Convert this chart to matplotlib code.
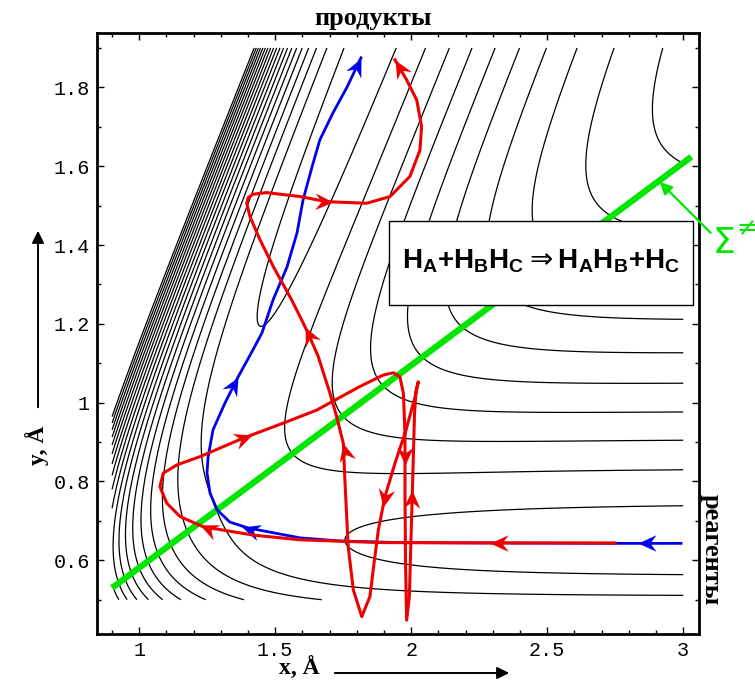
import numpy as np
import matplotlib
matplotlib.use('Agg')
import matplotlib.pyplot as plt
from matplotlib.markers import MarkerStyle
from matplotlib.path import Path
from matplotlib.transforms import Affine2D
from matplotlib.patches import Rectangle, FancyArrowPatch

plt.rcParams['mathtext.fontset'] = 'dejavusans'

# LEPS surface for H + H2 (eV, Angstrom), plotted in skewed Jacobi coordinates
D_E = 4.746
BETA = 1.942
R_E = 0.742
SATO = 0.13
LEVELS = 0.19 + 0.38 * np.arange(20)

# trajectories (x, y in Angstrom)
blue_x = [2.992, 2.749, 2.326, 1.958, 1.738, 1.591, 1.400, 1.333, 1.286, 1.260, 1.249,
          1.253, 1.271, 1.315, 1.363, 1.418, 1.451, 1.492, 1.543, 1.580, 1.602, 1.635,
          1.664, 1.712, 1.764, 1.815]
blue_y = [0.643, 0.643, 0.644, 0.645, 0.649, 0.657, 0.682, 0.697, 0.728, 0.771, 0.822,
          0.862, 0.931, 0.999, 1.065, 1.134, 1.177, 1.261, 1.344, 1.431, 1.514, 1.598,
          1.667, 1.735, 1.801, 1.875]

red_x = [2.749, 2.326, 1.885, 1.591, 1.419, 1.235, 1.150, 1.101, 1.076, 1.088, 1.138,
         1.223, 1.382, 1.529, 1.652, 1.811, 1.897, 1.934, 1.958, 1.971, 1.977, 1.977,
         1.979, 1.983,
         1.993, 2.000, 2.007, 2.012, 2.018, 2.026,
         2.014, 1.981, 1.940, 1.903, 1.879, 1.863, 1.848, 1.818,
         1.787, 1.768, 1.756, 1.750, 1.726, 1.701, 1.658, 1.621, 1.597, 1.560, 1.493,
         1.444, 1.407, 1.395, 1.401, 1.419, 1.468, 1.591, 1.689, 1.836, 1.922, 1.995,
         2.032, 2.038, 2.020, 1.983, 1.940]
red_y = [0.644, 0.644, 0.645, 0.652, 0.664, 0.685, 0.711, 0.745, 0.787, 0.821, 0.842,
         0.863, 0.910, 0.948, 0.981, 1.041, 1.070, 1.076, 1.066, 1.024, 0.922, 0.761,
         0.592, 0.448,
         0.508, 0.677, 0.846, 0.973, 1.032, 1.053,
         1.015, 0.931, 0.846, 0.761, 0.677, 0.592, 0.508, 0.457,
         0.525, 0.635, 0.804, 0.897, 0.964, 1.024, 1.117, 1.176, 1.210, 1.261, 1.345,
         1.413, 1.472, 1.506, 1.521, 1.529, 1.533, 1.523, 1.510, 1.506, 1.523, 1.574,
         1.641, 1.701, 1.768, 1.819, 1.870]

blue_arrows = [(2.833, 0.643), (1.378, 0.685), (1.363, 1.065), (1.815, 1.875)]
red_arrows = [(2.288, 0.644), (1.222, 0.689), (1.415, 0.918), (1.977, 0.842),
              (2.004, 0.778), (1.896, 0.735), (1.750, 0.897), (1.609, 1.193),
              (1.712, 1.510), (1.940, 1.870)]

# dividing surface
sigma_x = [0.90, 3.03]
sigma_y = [0.530, 1.624]

x_ticks = [1, 1.5, 2, 2.5, 3]
x_labels = ['1', '1.5', '2', '2.5', '3']
y_ticks = [0.6, 0.8, 1.0, 1.2, 1.4, 1.6, 1.8]
y_labels = ['0.6', '0.8', '1', '1.2', '1.4', '1.6', '1.8']


def leps(rab, rbc, rac):
    def q_j(r):
        u = np.exp(-BETA * (r - R_E))
        q = D_E / (4 * (1 + SATO)) * ((3 + SATO) * u ** 2 - 2 * (1 + 3 * SATO) * u)
        j = D_E / (4 * (1 + SATO)) * ((1 + 3 * SATO) * u ** 2 - (6 + 2 * SATO) * u)
        return q, j
    q1, j1 = q_j(rab)
    q2, j2 = q_j(rbc)
    q3, j3 = q_j(rac)
    root = np.sqrt(np.clip(j1 ** 2 + j2 ** 2 + j3 ** 2 - j1 * j2 - j2 * j3 - j1 * j3, 0, None))
    return q1 + q2 + q3 - root + D_E


# arrowhead with its tip at the origin
HEAD = Path([(0, 0), (-1, 0.46), (-0.66, 0), (-1, -0.46), (0, 0)],
            [Path.MOVETO, Path.LINETO, Path.LINETO, Path.LINETO, Path.CLOSEPOLY])


def draw_heads(ax, xs, ys, spots, color, z):
    pts = ax.transData.transform(np.column_stack([xs, ys]))
    a, b = pts[:-1], pts[1:]
    ab = b - a
    for sx, sy in spots:
        p = ax.transData.transform((sx, sy))
        t = np.clip(((p - a) * ab).sum(1) / ((ab ** 2).sum(1) + 1e-9), 0, 1)
        d = np.hypot(*(a + ab * t[:, None] - p).T)
        i = np.argmin(d)
        ang = np.degrees(np.arctan2(ab[i, 1], ab[i, 0]))
        m = MarkerStyle(HEAD, transform=Affine2D().rotate_deg(ang))
        ax.plot(sx, sy, marker=m, ms=26, color=color, mew=0, ls='none', zorder=z)


fig = plt.figure(figsize=(7.55, 6.81), dpi=100)
ax = fig.add_axes([97 / 755, 1 - 634 / 681, 602 / 755, 601 / 681])
ax.set_xlim(0.8445, 3.058)
ax.set_ylim(0.413, 1.938)

xg = np.linspace(0.9, 3.0, 600)
yg = np.linspace(0.5, 1.9, 500)
X, Y = np.meshgrid(xg, yg)
r_bc = Y / (np.sqrt(3) / 2)
r_ab = np.clip(X - r_bc / 2, 0.05, None)
E = leps(r_ab, r_bc, r_ab + r_bc)
ax.contour(X, Y, E, levels=LEVELS, colors='black', linewidths=0.9, zorder=1)

ax.plot(sigma_x, sigma_y, color='#00e600', lw=4.5, solid_capstyle='butt', zorder=2)

ax.plot(blue_x, blue_y, color='#0000ee', lw=2.0, zorder=3)
draw_heads(ax, blue_x, blue_y, blue_arrows, '#0000ee', 3)
ax.plot(red_x, red_y, color='#ee0000', lw=2.2, zorder=4)
draw_heads(ax, red_x, red_y, red_arrows, '#ee0000', 4)

ax.add_patch(Rectangle((1.918, 1.248), 1.118, 0.213, facecolor='white',
                       edgecolor='black', lw=1.0, zorder=5))
ax.text(2.476, 1.342,
        r'H$_\mathregular{A}$+H$_\mathregular{B}$H$_\mathregular{C}\Rightarrow$'
        r'H$_\mathregular{A}$H$_\mathregular{B}$+H$_\mathregular{C}$',
        ha='center', va='baseline', fontsize=20, family='Liberation Sans',
        weight='bold', zorder=6)

ax.annotate('', xy=(2.914, 1.560), xytext=(3.101, 1.431), annotation_clip=False,
            arrowprops=dict(arrowstyle='-|>', color='#00e600', lw=1.6,
                            mutation_scale=18, shrinkA=0, shrinkB=0))
ax.text(3.109, 1.380, 'Σ', color='#00e600', fontsize=26, family='DejaVu Sans',
        ha='left', va='baseline')
ax.text(3.195, 1.443, '≠', color='#00e600', fontsize=18, family='DejaVu Sans',
        ha='left', va='center')

ax.set_xticks(x_ticks)
ax.set_xticklabels(x_labels)
ax.set_yticks(y_ticks)
ax.set_yticklabels(y_labels)
ax.set_xticks(np.arange(0.9, 3.05, 0.1), minor=True)
ax.set_yticks(np.arange(0.5, 1.95, 0.1), minor=True)
ax.tick_params(which='both', direction='in', top=True, right=True, width=1.0)
ax.tick_params(which='major', length=5, labelsize=14.5, pad=5)
ax.tick_params(which='minor', length=3)
for lab in ax.get_xticklabels() + ax.get_yticklabels():
    lab.set_family('Liberation Mono')
for s in ax.spines.values():
    s.set_linewidth(2.0)

serif = dict(family='Liberation Serif', weight='bold')
fig.text(373 / 755, 1 - 18 / 681, 'продукты', ha='center', va='center', fontsize=19, **serif)
fig.text(711 / 755, 1 - 550 / 681, 'реагенты', ha='center', va='center', fontsize=19,
         rotation=-90, **serif)
fig.text(299 / 755, 1 - 668 / 681, 'x, Å', ha='center', va='center', fontsize=17, **serif)
fig.text(37 / 755, 1 - 445 / 681, 'y, Å', ha='center', va='center', fontsize=17,
         rotation=90, **serif)

fig.add_artist(FancyArrowPatch(
    (332 / 755, 1 - 673 / 681), (512 / 755, 1 - 673 / 681), transform=fig.transFigure,
    arrowstyle='-|>', mutation_scale=18, lw=1.4, color='black'))
fig.add_artist(FancyArrowPatch(
    (38 / 755, 1 - 410 / 681), (38 / 755, 1 - 228 / 681), transform=fig.transFigure,
    arrowstyle='-|>', mutation_scale=18, lw=1.4, color='black'))

fig.savefig('out.png', dpi=100)
